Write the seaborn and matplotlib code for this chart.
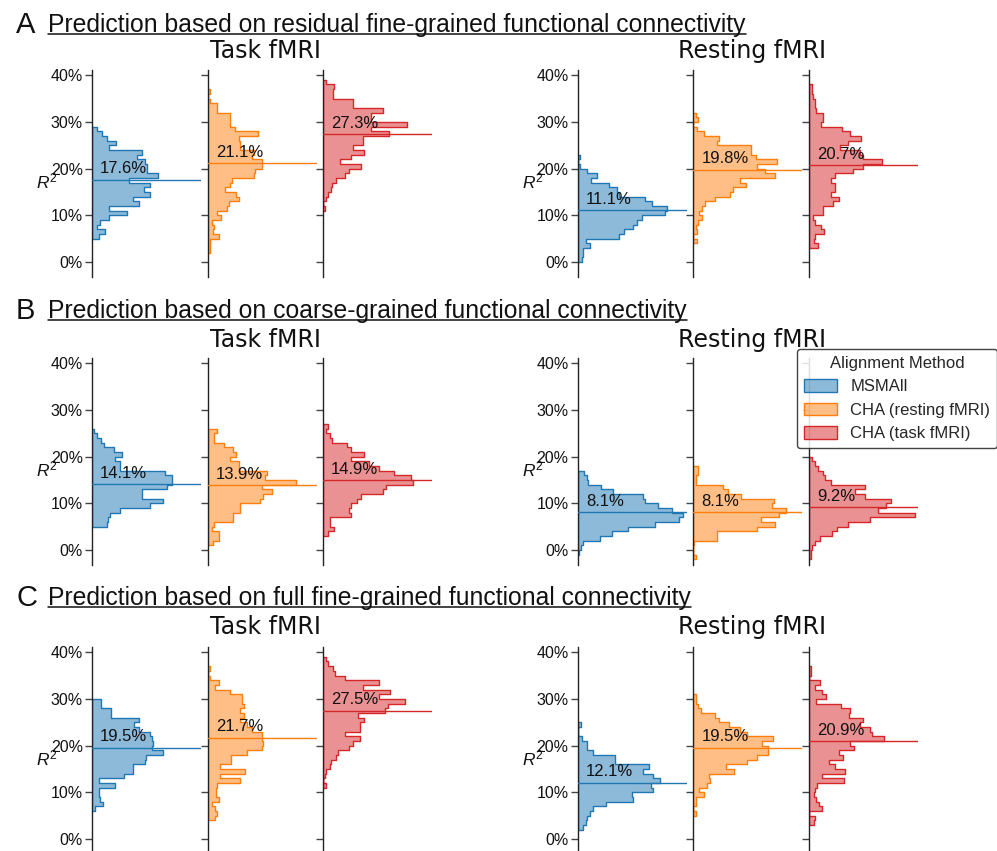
import numpy as np
import pandas as pd
import matplotlib
matplotlib.use("Agg")
import matplotlib.pyplot as plt
import matplotlib.transforms as mtransforms
from matplotlib.colors import to_rgba
from matplotlib.patches import Patch
from matplotlib.lines import Line2D
import seaborn as sns

# ---------------------------------------------------------------------------
# Data: counts per 1 %-wide R^2 bin, listed from the lowest bin upward.
# Each *_start is the lower edge (in %) of the first bin.
# ---------------------------------------------------------------------------
methods = ["MSMAll", "CHA (resting fMRI)", "CHA (task fMRI)"]
colors = ["#1f77b4", "#ff7f0e", "#d62728"]
row_letters = ["A", "B", "C"]
row_titles = [
    "Prediction based on residual fine-grained functional connectivity",
    "Prediction based on coarse-grained functional connectivity",
    "Prediction based on full fine-grained functional connectivity",
]
conditions = ["Task fMRI", "Resting fMRI"]
y_ticks = [0, 10, 20, 30, 40]
y_tick_labels = ["0%", "10%", "20%", "30%", "40%"]

# Row A: residual fine-grained connectivity
a_task_msm_start, a_task_msm = 5, [20, 40, 15, 25, 50, 105, 50, 140, 123, 175, 157, 175, 110, 200, 165, 165, 158, 135, 150, 50, 72, 45, 30, 15]
a_task_rest_start, a_task_rest = 2, [5, 5, 7, 32, 14, 19, 12, 39, 27, 57, 62, 92, 84, 52, 67, 72, 137, 142, 162, 162, 132, 137, 97, 97, 94, 150, 80, 67, 67, 67, 27, 27, 7, 0, 7]
a_task_task_start, a_task_task = 11, [7, 0, 8, 15, 23, 27, 40, 65, 77, 115, 50, 85, 122, 90, 120, 120, 200, 145, 252, 145, 145, 180, 90, 90, 30, 30, 32, 8]
a_rest_msm_start, a_rest_msm = 0, [12, 15, 15, 37, 25, 124, 139, 167, 177, 192, 264, 270, 225, 202, 125, 117, 94, 39, 59, 27, 7, 0, 7]
a_rest_rest_start, a_rest_rest = 4, [10, 0, 10, 8, 15, 25, 18, 25, 35, 65, 110, 120, 160, 140, 246, 215, 193, 252, 188, 175, 175, 70, 77, 32, 10, 0, 15, 8]
a_rest_task_start, a_rest_task = 3, [27, 14, 17, 44, 34, 17, 12, 40, 40, 72, 90, 65, 77, 77, 64, 77, 132, 162, 220, 162, 152, 92, 117, 155, 122, 97, 34, 40, 40, 20, 17, 17, 12, 7, 7]

# Row B: coarse-grained connectivity
b_task_msm_start, b_task_msm = 5, [45, 47, 53, 83, 175, 213, 150, 150, 227, 240, 240, 220, 85, 85, 68, 90, 65, 35, 27, 15, 7]
b_task_rest_start, b_task_rest = 1, [14, 32, 32, 12, 19, 75, 75, 95, 95, 157, 167, 192, 162, 265, 172, 177, 94, 94, 67, 85, 75, 49, 17, 17, 27]
b_task_task_start, b_task_task = 3, [15, 33, 20, 20, 85, 78, 83, 102, 115, 180, 190, 272, 265, 213, 170, 138, 85, 123, 85, 73, 27, 20, 8, 15]
b_rest_msm_start, b_rest_msm = -1, [5, 10, 17, 67, 104, 152, 232, 304, 317, 284, 242, 202, 197, 107, 70, 32, 27, 20]
b_rest_rest_start, b_rest_rest = -2, [8, 0, 0, 3, 70, 70, 193, 246, 203, 258, 280, 238, 243, 145, 103, 90, 8, 8, 15, 15]
b_rest_task_start, b_rest_task = -2, [5, 5, 7, 17, 32, 67, 82, 117, 182, 317, 207, 232, 245, 167, 137, 167, 65, 47, 42, 27, 17, 7]

# Row C: full fine-grained connectivity
c_task_msm_start, c_task_msm = 6, [8, 33, 25, 22, 22, 70, 22, 95, 123, 123, 160, 162, 213, 180, 183, 180, 175, 142, 125, 142, 58, 58, 27, 27]
c_task_rest_start, c_task_rest = 4, [22, 27, 20, 12, 34, 25, 25, 27, 95, 37, 112, 37, 70, 70, 117, 162, 167, 162, 162, 132, 117, 97, 109, 97, 109, 102, 102, 67, 20, 34, 7, 0, 7]
c_task_task_start, c_task_task = 11, [8, 0, 5, 8, 20, 23, 40, 45, 78, 90, 112, 65, 110, 110, 123, 105, 188, 195, 247, 170, 202, 120, 168, 65, 35, 30, 15, 8]
c_rest_msm_start, c_rest_msm = 2, [17, 25, 29, 37, 47, 85, 167, 162, 227, 222, 247, 227, 197, 215, 112, 112, 47, 27, 27, 12, 0, 0, 9]
c_rest_rest_start, c_rest_rest = 5, [8, 0, 8, 8, 33, 18, 40, 50, 48, 123, 98, 161, 193, 226, 226, 208, 240, 163, 140, 108, 78, 66, 23, 15, 8, 8]
c_rest_task_start, c_rest_task = 3, [13, 18, 0, 38, 28, 21, 13, 18, 23, 103, 38, 108, 76, 58, 101, 88, 135, 121, 226, 188, 183, 153, 161, 118, 121, 95, 21, 51, 38, 18, 33, 0, 5, 5]

# Mean R^2 (%) per method
a_task_means = [17.6, 21.1, 27.3]
a_rest_means = [11.1, 19.8, 20.7]
b_task_means = [14.1, 13.9, 14.9]
b_rest_means = [8.1, 8.1, 9.2]
c_task_means = [19.5, 21.7, 27.5]
c_rest_means = [12.1, 19.5, 20.9]

panels = [
    [  # row A
        ([(a_task_msm_start, a_task_msm), (a_task_rest_start, a_task_rest), (a_task_task_start, a_task_task)], a_task_means),
        ([(a_rest_msm_start, a_rest_msm), (a_rest_rest_start, a_rest_rest), (a_rest_task_start, a_rest_task)], a_rest_means),
    ],
    [  # row B
        ([(b_task_msm_start, b_task_msm), (b_task_rest_start, b_task_rest), (b_task_task_start, b_task_task)], b_task_means),
        ([(b_rest_msm_start, b_rest_msm), (b_rest_rest_start, b_rest_rest), (b_rest_task_start, b_rest_task)], b_rest_means),
    ],
    [  # row C
        ([(c_task_msm_start, c_task_msm), (c_task_rest_start, c_task_rest), (c_task_task_start, c_task_task)], c_task_means),
        ([(c_rest_msm_start, c_rest_msm), (c_rest_rest_start, c_rest_rest), (c_rest_task_start, c_rest_task)], c_rest_means),
    ],
]

# ---------------------------------------------------------------------------
# Style
# ---------------------------------------------------------------------------
sns.set_theme(style="ticks")
plt.rcParams["font.family"] = ["Liberation Sans", "DejaVu Sans"]
plt.rcParams["mathtext.fontset"] = "custom"
plt.rcParams["mathtext.rm"] = "Liberation Sans"
plt.rcParams["mathtext.it"] = "Liberation Sans:italic"

W, H = 997, 851
fig = plt.figure(figsize=(W / 100, H / 100), dpi=100)


def fx(px):
    return px / W


def fy(py):
    return 1 - py / H


col_lefts = [[92, 208, 323], [577.7, 693.3, 809.3]]
title_centers = [266, 752]
row_tops = [70, 358, 647]
heading_baselines = [32, 318, 605]
subtitle_baselines = [58, 347, 634]
ax_w, ax_h = 109, 207
y_lim = (-3.2, 41.1)
x_max = 328

for r in range(3):
    for c in range(2):
        hists, means = panels[r][c]
        for m in range(3):
            left = col_lefts[c][m]
            ax = fig.add_axes([fx(left), fy(row_tops[r] + ax_h), fx(ax_w), ax_h / H])
            start, counts = hists[m]
            centers = np.arange(len(counts)) + start + 0.5
            df = pd.DataFrame({"r2": centers, "n": counts})
            sns.histplot(data=df, y="r2", weights="n", binwidth=1,
                         binrange=(start, start + len(counts)), element="step",
                         fill=True, color=colors[m], alpha=0.5, linewidth=1.0, ax=ax)
            ax.axhline(means[m], xmin=0, xmax=1, color=colors[m], lw=1.0, zorder=3)
            trans = mtransforms.blended_transform_factory(ax.transAxes, ax.transData)
            ax.text(0.075, means[m] + 1.4, f"{means[m]:.1f}%", transform=trans,
                    fontsize=12, va="baseline", ha="left", color="#111111", zorder=4)
            ax.set_xlim(0, x_max)
            ax.set_ylim(*y_lim)
            ax.set_xlabel("")
            ax.set_ylabel("")
            ax.set_xticks([])
            ax.set_yticks(y_ticks)
            for s in ["top", "right", "bottom"]:
                ax.spines[s].set_visible(False)
            ax.spines["left"].set_color("#222222")
            ax.spines["left"].set_linewidth(1.0)
            ax.tick_params(axis="y", direction="out", length=5, width=1.0,
                           color="#444444", labelsize=11.5, pad=1.5, labelcolor="#111111")
            ax.patch.set_alpha(0)
            if m == 0:
                ax.set_yticklabels(y_tick_labels)
                ax.text(-0.41, 0.43, "$R^2$", transform=ax.transAxes, fontsize=12.5,
                        ha="center", va="baseline", color="#111111")
            else:
                ax.set_yticklabels([])
        fig.text(fx(title_centers[c]), fy(subtitle_baselines[r]), conditions[c],
                 fontsize=17, ha="center", va="baseline", family="DejaVu Sans",
                 color="#111111")

# Row letters and underlined headings
heading_texts = []
for r in range(3):
    fig.text(fx(16), fy(heading_baselines[r] + 1), row_letters[r], fontsize=21,
             ha="left", va="baseline", color="#111111")
    t = fig.text(fx(48), fy(heading_baselines[r]), row_titles[r], fontsize=17.8,
                 ha="left", va="baseline", color="#111111")
    heading_texts.append((t, heading_baselines[r]))

fig.canvas.draw()
renderer = fig.canvas.get_renderer()
for t, base in heading_texts:
    bb = t.get_window_extent(renderer)
    fig.add_artist(Line2D([bb.x0 / W, bb.x1 / W], [fy(base + 2.2), fy(base + 2.2)],
                          transform=fig.transFigure, color="#111111", lw=1.1))

# Legend
handles = [Patch(facecolor=to_rgba(col, 0.5), edgecolor=col, linewidth=1.0) for col in colors]
leg = fig.legend(handles, methods, title="Alignment Method", loc="upper right",
                 bbox_to_anchor=(1.0, fy(349)), bbox_transform=fig.transFigure,
                 fontsize=12, title_fontsize=12, frameon=True, fancybox=True,
                 framealpha=0.85, edgecolor="#222222", borderaxespad=0,
                 handlelength=2.0, handleheight=0.8)
leg.get_frame().set_linewidth(1.0)

fig.savefig("out.png", dpi=100)
